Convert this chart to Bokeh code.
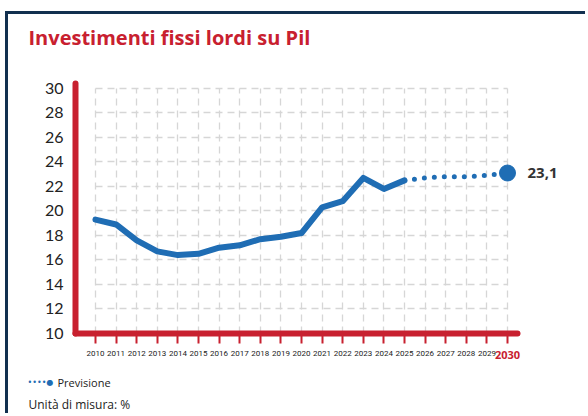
from bokeh.plotting import figure
from bokeh.models import Label, FixedTicker, Range1d
from bokeh.embed import file_html
from bokeh.resources import INLINE

years = list(range(2010, 2026))
values = [19.3, 18.9, 17.6, 16.7, 16.4, 16.5, 17.0, 17.2, 17.7, 17.9, 18.2, 20.3, 20.8, 22.7, 21.8, 22.5]
fc_years = [2025, 2026, 2027, 2028, 2029, 2030]
fc_values = [22.5, 22.7, 22.8, 22.8, 22.9, 23.1]
all_years = list(range(2010, 2031))
y_ticks = list(range(10, 31, 2))

RED = "#c8202f"
BLUE = "#1f6db4"
W, H = 580, 402

p = figure(width=W, height=H, output_backend="svg", toolbar_location=None,
           x_range=Range1d(2005.777, 2033.932), y_range=Range1d(3.224, 36.04),
           min_border=0)
p.outline_line_color = None
p.background_fill_color = "white"
p.border_fill_color = "white"
p.styles = {"margin-left": "5px", "margin-top": "11px",
            "border-top": "3px solid #12304f", "border-left": "3px solid #12304f"}

X_AX = (2009.03, 2030.49)
Y_AX = (10, 30.41)

# grids
p.xgrid.ticker = FixedTicker(ticks=all_years)
p.ygrid.ticker = FixedTicker(ticks=y_ticks)
for g in (p.xgrid, p.ygrid):
    g.grid_line_color = "#d6d6d6"
    g.grid_line_dash = "7 5"
    g.grid_line_width = 1.3
p.xgrid.bounds = (all_years[0], all_years[-1])
p.ygrid.bounds = (y_ticks[0], y_ticks[-1])
p.xgrid.cross_bounds = (y_ticks[0], y_ticks[-1])
p.ygrid.cross_bounds = (all_years[0], all_years[-1])

# x axis
xa = p.xaxis[0]
xa.fixed_location = Y_AX[0]
xa.bounds = X_AX
xa.ticker = FixedTicker(ticks=all_years)
xa.major_label_overrides = {all_years[-1]: ""}
xa.axis_line_color = RED
xa.axis_line_width = 6
xa.axis_line_cap = "round"
xa.major_tick_line_color = RED
xa.major_tick_line_width = 2
xa.major_tick_out = 10
xa.major_tick_in = 0
xa.minor_tick_line_color = None
xa.major_label_text_font = "Roboto"
xa.major_label_text_font_size = "8px"
xa.major_label_text_color = "#222222"
xa.major_label_standoff = 8

ya = p.yaxis[0]
ya.fixed_location = X_AX[0]
ya.bounds = Y_AX
ya.ticker = FixedTicker(ticks=y_ticks)
ya.axis_line_color = RED
ya.axis_line_width = 6
ya.axis_line_cap = "round"
ya.major_tick_line_color = None
ya.minor_tick_line_color = None
ya.major_label_text_font = "Lato"
ya.major_label_text_font_size = "16px"
ya.major_label_text_color = "#222222"
ya.major_label_standoff = 6

# data
p.line(years, values, line_color=BLUE, line_width=6, line_join="round", line_cap="round")
p.line(fc_years, fc_values, line_color=BLUE, line_width=5, line_dash="0 10", line_cap="round")
p.scatter([fc_years[-1]], [fc_values[-1]], size=16, color=BLUE)

p.add_layout(Label(x=fc_years[-1], y=fc_values[-1], text="23,1", x_offset=20,
                   text_baseline="middle", text_font="Open Sans", text_font_style="bold",
                   text_font_size="15px", text_color="#333333"))
p.add_layout(Label(x=all_years[-1], y=Y_AX[0], text=str(all_years[-1]), y_offset=-22,
                   text_align="center", text_baseline="middle", text_font="Open Sans",
                   text_font_style="bold", text_font_size="11px", text_color=RED))

# title and notes (screen units: frame == canvas, origin bottom-left)
def note(x, y, text, size, color, bold=False, font="Open Sans"):
    p.add_layout(Label(x=x, y=H - y, x_units="screen", y_units="screen", text=text,
                       text_baseline="middle", text_font=font,
                       text_font_style="bold" if bold else "normal",
                       text_font_size=size, text_color=color))

note(20, 23, "Investimenti fissi lordi su Pil", "20px", RED, bold=True)
note(19, 368, "••••●", "8px", BLUE, font="DejaVu Sans")
note(49, 368, "Previsione", "11px", "#222222")
note(20, 390, "Unità di misura: %", "12px", "#222222")

open("out.html", "w").write(file_html(p, INLINE))
